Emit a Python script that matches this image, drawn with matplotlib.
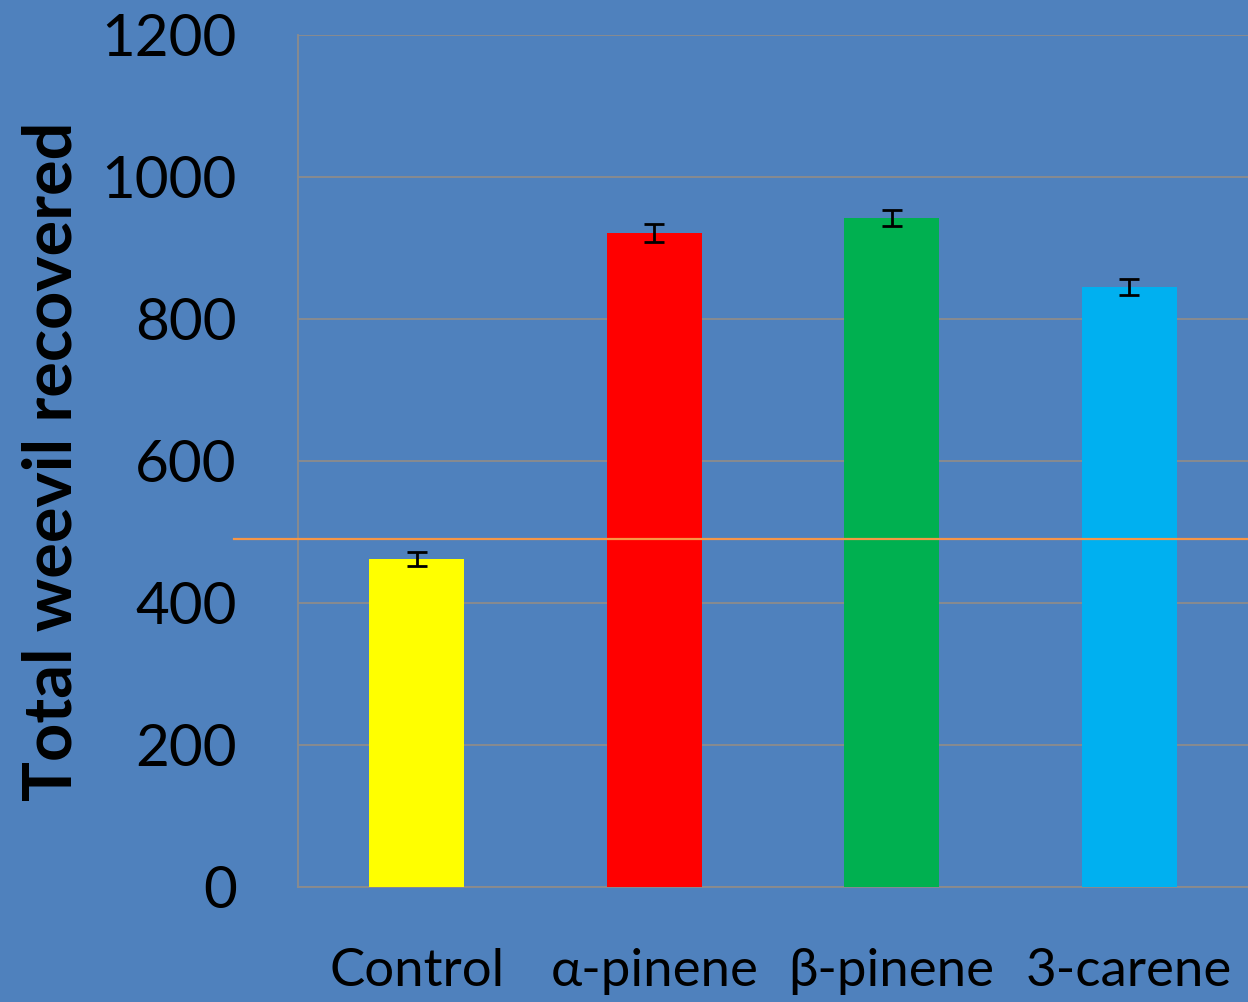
import matplotlib.pyplot as plt
import matplotlib.transforms as mtransforms
import numpy as np

categories = ["Control", "α-pinene", "β-pinene", "3-carene"]
totals = [462, 921, 942, 845]
errors = [10, 13, 11, 11]
bar_colors = ["#FFFF00", "#FF0000", "#00B050", "#00B0F0"]
ref_level = 490
y_ticks = [0, 200, 400, 600, 800, 1000, 1200]

bg = "#4F81BD"
plt.rcParams["font.family"] = ["Lato", "DejaVu Sans"]

W, H = 1248, 1002
fig = plt.figure(figsize=(W / 100, H / 100), dpi=100, facecolor=bg)
ax = fig.add_axes([298 / W, (H - 887) / H, (W - 298) / W, (887 - 35) / H])
ax.set_facecolor(bg)

x = np.arange(len(categories)) + 0.5
ax.bar(x, totals, width=0.4, color=bar_colors, zorder=3,
       yerr=errors, error_kw=dict(ecolor="black", elinewidth=2, capsize=7.5, capthick=2))

ax.set_xlim(0, 4)
ax.set_ylim(0, 1200)
ax.set_yticks(y_ticks)
ax.set_xticks(x)
ax.set_xticklabels(categories, fontsize=38)
ax.tick_params(axis="y", labelsize=42, length=0, pad=44)
ax.tick_params(axis="x", length=0, pad=44)

ax.yaxis.grid(True, color="#8C8C8C", linewidth=1.3, zorder=0)
ax.set_axisbelow(True)
for side in ["top", "right"]:
    ax.spines[side].set_visible(False)
for side in ["left", "bottom"]:
    ax.spines[side].set_color("#8C8C8C")
    ax.spines[side].set_linewidth(1.3)

# orange reference line, starting left of the axes
trans = mtransforms.blended_transform_factory(fig.transFigure, ax.transData)
ax.plot([234 / W, 1.0], [ref_level, ref_level], color="#F79646", linewidth=1.6,
        transform=trans, clip_on=False, zorder=4)

ax.set_ylabel("Total weevil recovered", fontsize=48, fontweight="bold")
ax.yaxis.set_label_coords(-214 / (W - 298), 0.5)

fig.savefig("out.png", dpi=100, facecolor=bg)
